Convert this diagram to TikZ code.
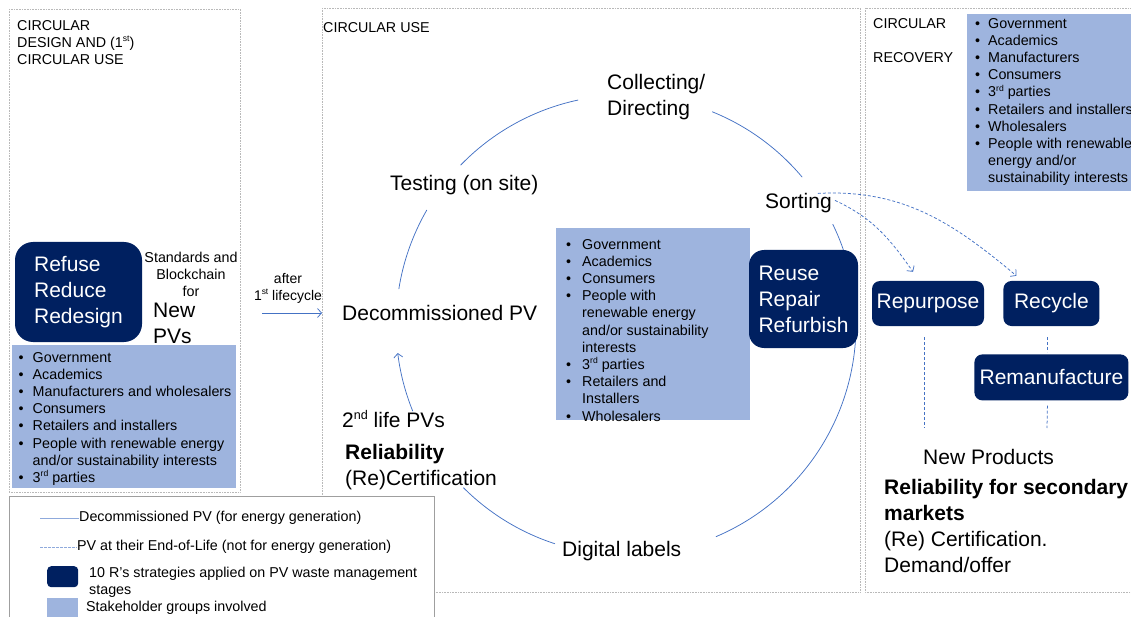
\documentclass[tikz,border=0pt]{standalone}
\usepackage{fontspec}
\setmainfont{Liberation Sans}
\usepackage{tikz}
\usetikzlibrary{arrows.meta, positioning, calc}
\definecolor{rnavy}{RGB}{0,32,96}
\definecolor{stakeblue}{RGB}{158,180,222}
\definecolor{flowblue}{RGB}{68,114,196}
\definecolor{lgblue}{RGB}{143,170,220}
\definecolor{framegray}{RGB}{185,185,185}
\newlength{\bulw}
\newcommand{\bl}{\makebox[\bulw][l]{\textbullet}}
\newcommand{\hg}{\hspace*{\bulw}}
\newcommand{\sups}[1]{\raisebox{0.4em}{\scalebox{0.6}{#1}}}
\newcommand{\bigfont}{\fontsize{21}{26}\selectfont}
\newcommand{\smfont}{\fontsize{14.3}{17.2}\selectfont}

\begin{document}
\begin{tikzpicture}[
  x=1pt, y=1pt,
  every node/.style={inner sep=0pt},
  frame/.style={draw=framegray, densely dotted, line width=0.6pt},
  navybox/.style={fill=rnavy, rounded corners=#1, text=white, font=\bigfont, align=left},
  navybox/.default=8pt,
  stakebox/.style={fill=stakeblue, anchor=north west},
  stakelist/.style={anchor=north west, align=left, font=\smfont\setlength{\bulw}{#1}},
  big/.style={font=\bigfont, align=left},
  small/.style={font=\smfont, align=left},
  flow/.style={draw=flowblue, line width=0.75pt},
  eol/.style={draw=flowblue, line width=0.75pt, dash pattern=on 3pt off 2pt},
  tip/.style={-{Straight Barb[length=4pt, width=9pt]}},
]
\useasboundingbox (0,0) rectangle (1131,-617);

%% Panels
\draw[frame] (9,-9) rectangle (240,-492);
\draw[frame] (322,-8) rectangle (860,-592);
\draw[frame] (865,-8) rectangle (1140,-592);

\node[small, anchor=north west] (ttlL) at (17,-20)
  {CIRCULAR\\DESIGN AND (1\sups{st})\\CIRCULAR USE};
\node[small, anchor=north west] (ttlM) at (323,-22) {CIRCULAR USE};
\node[small, anchor=north west] (ttlR) at (873,-18) {CIRCULAR\\[17pt]RECOVERY};

%% Circular design (left)
\node[navybox=18pt, minimum width=127pt, minimum height=100pt] (rrr) at (78.5,-292)
  {Refuse\\Reduce\\Redesign};
\node[small, align=center, anchor=north] (std) at (191,-252)
  {Standards and\\Blockchain\\for};
\node[big, anchor=north west] (newpv) at (153,-302.4) {New\\PVs};
\node[stakebox, minimum width=224pt, minimum height=143pt] (stkL) at (12,-345) {};
\node[stakelist=14pt] (lstL) at (18.5,-352)
  {\bl Government\\\bl Academics\\\bl Manufacturers and wholesalers\\\bl Consumers\\
   \bl Retailers and installers\\\bl People with renewable energy\\
   \hg and/or sustainability interests\\\bl 3\sups{rd} parties};

\node[font=\fontsize{14}{17}\selectfont, align=center, anchor=north] (aftr) at (288,-273)
  {after\\1\sups{st} lifecycle};
\coordinate (lcA) at (262,-313);
\coordinate (lcB) at (322,-313);
\draw[flow, tip] (lcA) -- (lcB);

%% Circular use (middle)
\coordinate (ctr) at (626,-325);
\def\R{230}
\foreach \a/\b in {136/102, 68/40, 26/17, -3/-67, -108/-135, 150/171}
  \draw[flow] (ctr) ++(\a:\R) arc[start angle=\a, end angle=\b, radius=\R];
\draw[flow, tip] (ctr) ++(-158:\R) arc[start angle=-158, end angle=-173, radius=\R];

\node[big, anchor=north west] (coll) at (607,-74.4) {Collecting/\\Directing};
\node[big, anchor=north west] (test) at (390,-175.4) {Testing (on site)};
\node[big, anchor=north west] (sort) at (765,-193.4) {Sorting};
\node[big, anchor=north west] (decom) at (342,-305.4) {Decommissioned PV};
\node[big, anchor=base west] (life) at (342,-427.6) {2\sups{nd} life PVs};
\node[big, anchor=north west] (reli) at (345,-444.4) {\textbf{Reliability}\\(Re)Certification};
\node[big, anchor=north west] (digi) at (562,-541.4) {Digital labels};

\node[stakebox, minimum width=194pt, minimum height=192pt] (stkM) at (556,-228) {};
\node[stakelist=16pt] (lstM) at (566,-239)
  {\bl Government\\\bl Academics\\\bl Consumers\\\bl People with\\\hg renewable energy\\
   \hg and/or sustainability\\\hg interests\\\bl 3\sups{rd} parties\\
   \bl Retailers and\\\hg Installers\\\bl Wholesalers};

\node[navybox=15pt, minimum width=109pt, minimum height=98pt] (rrf) at (803.5,-299)
  {Reuse\\Repair\\Refurbish};

%% Circular recovery (right)
\node[stakebox, minimum width=180pt, minimum height=177pt] (stkR) at (967,-14) {};
\node[stakelist=13pt] (lstR) at (975,-18)
  {\bl Government\\\bl Academics\\\bl Manufacturers\\\bl Consumers\\
   \bl 3\sups{rd} parties\\\bl Retailers and installers\\\bl Wholesalers\\
   \bl People with renewable\\\hg energy and/or\\\hg sustainability interests};

\node[navybox, minimum width=112pt, minimum height=45pt] (repp) at (928,-303.5) {Repurpose};
\node[navybox, minimum width=96pt, minimum height=45pt, right=19pt of repp] (recy) {Recycle};
\node[navybox, minimum width=154pt, minimum height=46pt, below=28pt of recy] (reman) {Remanufacture};

\draw[eol, tip] ([xshift=3pt,yshift=3pt]sort.east) to[out=-25, in=125]
  ([xshift=-15pt,yshift=9pt]repp.north);
\draw[eol, tip] ([xshift=-14pt]sort.north east) to[out=3, in=140]
  ([xshift=-35pt,yshift=5pt]recy.north);

\coordinate (npA) at (924,-428);
\coordinate (npB) at (1047,-428);
\draw[eol] ([xshift=-4pt,yshift=-11pt]repp.south) -- (npA);
\draw[eol] ([xshift=-4pt,yshift=-11pt]recy.south) -- ([xshift=-4pt,yshift=2pt]reman.north);
\draw[eol] ([xshift=-4pt,yshift=-5pt]reman.south) -- (npB);

\node[big, anchor=west] (newp) at (923,-457) {New Products};
\node[big, anchor=north west] (sec) at (884,-479.4)
  {\textbf{Reliability for secondary}\\\textbf{markets}\\(Re) Certification.\\Demand/offer};

%% Legend
\node[draw=gray!75, line width=0.8pt, fill=white, anchor=north west,
      minimum width=425pt, minimum height=135pt] (lgd) at (9,-496) {};
\node[small, anchor=west] (lg1) at (79,-518) {Decommissioned PV (for energy generation)};
\coordinate (lg1s) at (40,-518);
\draw[lgblue, line width=0.8pt] (lg1s) -- (lg1.west);
\node[small, anchor=west] (lg2) at (77,-547) {PV at their End-of-Life (not for energy generation)};
\coordinate (lg2s) at (40,-547);
\draw[lgblue, line width=0.8pt, dash pattern=on 2.5pt off 1.5pt] (lg2s) -- (lg2.west);
\node[navybox=4pt, minimum width=31pt, minimum height=21pt, anchor=north west] (lgR) at (47,-566) {};
\node[small, anchor=north west] (lg3) at (89,-567)
  {10 R's strategies applied on PV waste management\\stages};
\node[stakebox, minimum width=31pt, minimum height=22pt] (lgS) at (47,-598) {};
\node[small, anchor=west] (lg4) at (86,-608) {Stakeholder groups involved};

\end{tikzpicture}
\end{document}
